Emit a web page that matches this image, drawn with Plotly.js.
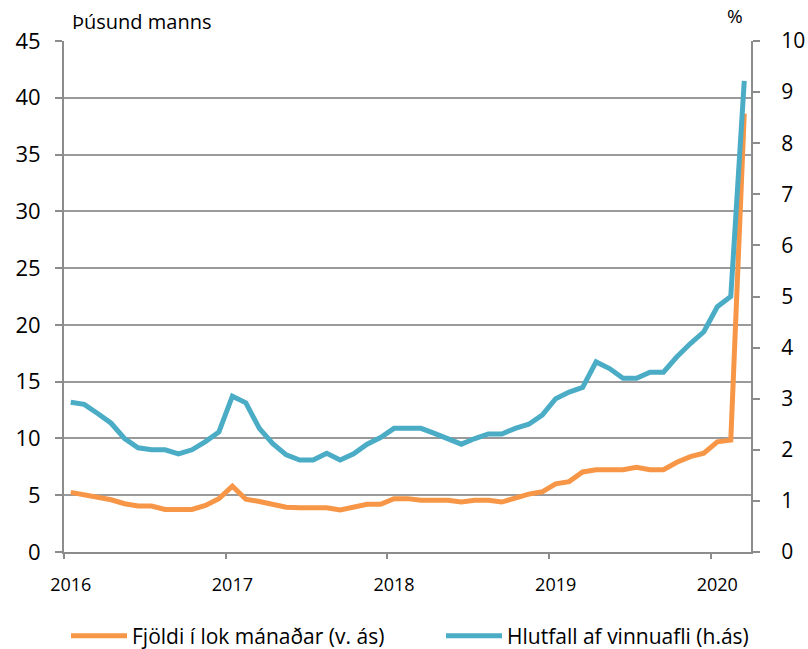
<!DOCTYPE html>
<html>
<head>
<meta charset="utf-8">
<script src="https://cdn.plot.ly/plotly-3.0.1.min.js"></script>
<style>
html,body{margin:0;padding:0;background:#fff;}
#chart{width:808px;height:649px;}
</style>
</head>
<body>
<div id="chart"></div>
<script>
// Months Jan 2016 .. Mar 2020
const months = [
 "2016-01","2016-02","2016-03","2016-04","2016-05","2016-06","2016-07","2016-08","2016-09","2016-10","2016-11","2016-12",
 "2017-01","2017-02","2017-03","2017-04","2017-05","2017-06","2017-07","2017-08","2017-09","2017-10","2017-11","2017-12",
 "2018-01","2018-02","2018-03","2018-04","2018-05","2018-06","2018-07","2018-08","2018-09","2018-10","2018-11","2018-12",
 "2019-01","2019-02","2019-03","2019-04","2019-05","2019-06","2019-07","2019-08","2019-09","2019-10","2019-11","2019-12",
 "2020-01","2020-02","2020-03"
];
// Fjöldi í lok mánaðar (þúsund manns, left axis)
const fjoldi = [
 5.25,5.05,4.85,4.6,4.25,4.05,4.05,3.75,3.75,3.75,4.1,4.7,
 5.8,4.65,4.45,4.15,3.95,3.9,3.9,3.9,3.7,3.9,4.2,4.2,
 4.7,4.7,4.55,4.55,4.55,4.4,4.55,4.55,4.4,4.75,5.1,5.3,
 6.0,6.2,7.05,7.25,7.25,7.25,7.45,7.25,7.25,7.9,8.4,8.7,
 9.7,9.85,38.6
];
// Hlutfall af vinnuafli (%, right axis)
const hlutfall = [
 2.93,2.89,2.71,2.52,2.22,2.04,2.0,2.0,1.92,2.0,2.16,2.35,
 3.05,2.92,2.42,2.12,1.9,1.8,1.8,1.93,1.8,1.92,2.11,2.24,
 2.42,2.42,2.42,2.32,2.22,2.11,2.22,2.31,2.31,2.42,2.5,2.68,
 3.0,3.13,3.22,3.72,3.59,3.4,3.4,3.52,3.52,3.82,4.08,4.31,
 4.8,5.0,9.22
];
const yearLabels = ["2016","2017","2018","2019","2020"];
const leftTicks = [0,5,10,15,20,25,30,35,40,45];
const rightTicks = [0,1,2,3,4,5,6,7,8,9,10];

const idx = months.map((m,i)=>i);
const janIdx = months.map((m,i)=>m.endsWith("-01")?i:null).filter(v=>v!==null);
const boundaries = janIdx.map(i=>i-0.5);

const FONT = "'Open Sans', Lato, sans-serif";
const ORANGE = "#F79646";
const BLUE = "#4BACC6";
const AX = "#8c8c8c";
const GRID = "#9a9a9a";

const W=808,H=649, L=64, R=57, T=41, B=97;
const pw=W-L-R, ph=H-T-B;
const px=(x)=> (x-L)/pw;
const py=(y)=> (H-B-y)/ph;

const traces = [
 {x: idx, y: fjoldi, name: "Fjöldi í lok mánaðar (v. ás)", type:"scatter", mode:"lines",
  line:{color:ORANGE, width:5}, yaxis:"y", legend:"legend"},
 {x: idx, y: hlutfall, name: "Hlutfall af vinnuafli (h.ás)", type:"scatter", mode:"lines",
  line:{color:BLUE, width:5}, yaxis:"y2", legend:"legend2"}
];

const legendBase = {orientation:"h", xanchor:"left", yanchor:"middle", y:py(636),
   font:{family:FONT, size:21, color:"#000"}, itemwidth:56, bgcolor:"rgba(0,0,0,0)"};

const layout = {
 width:W, height:H,
 margin:{l:L, r:R, t:T, b:B, pad:0, autoexpand:false},
 paper_bgcolor:"#fff", plot_bgcolor:"#fff",
 font:{family:FONT, color:"#000", size:18},
 showlegend:true,
 legend:Object.assign({}, legendBase, {x:px(66)}),
 legend2:Object.assign({}, legendBase, {x:px(441)}),
 xaxis:{
   range:[-0.5, months.length-0.5], tickmode:"array", tickvals:janIdx, ticktext:yearLabels,
   ticks:"", showgrid:false, zeroline:false, showline:true, linecolor:AX, linewidth:2,
   tickfont:{size:18, family:FONT}, ticklabelstandoff:15,
   minor:{tickmode:"array", tickvals:boundaries, ticks:"outside", ticklen:5, tickcolor:AX, tickwidth:2, showgrid:false}
 },
 yaxis:{
   range:[0,45], tickmode:"array", tickvals:leftTicks, ticks:"outside", ticklen:7, tickcolor:AX, tickwidth:2,
   showgrid:true, gridcolor:GRID, gridwidth:2, zeroline:false, showline:true, linecolor:AX, linewidth:2,
   tickfont:{size:22, family:FONT}, ticklabelstandoff:10
 },
 yaxis2:{
   range:[0,10], overlaying:"y", side:"right", tickmode:"array", tickvals:rightTicks,
   ticks:"outside", ticklen:7, tickcolor:AX, tickwidth:2, showgrid:false, zeroline:false,
   showline:true, linecolor:AX, linewidth:2, tickfont:{size:21, family:FONT}, ticklabelstandoff:17
 },
 annotations:[
   {text:"Þúsund manns", xref:"paper", yref:"paper", x:px(70), y:py(21), xanchor:"left", yanchor:"middle",
    showarrow:false, font:{size:20, family:FONT, color:"#000"}},
   {text:"%", xref:"paper", yref:"paper", x:px(735), y:py(16), xanchor:"center", yanchor:"middle",
    showarrow:false, font:{size:19, family:FONT, color:"#000"}}
 ]
};

Plotly.newPlot("chart", traces, layout, {displayModeBar:false, staticPlot:true});
</script>
</body>
</html>
